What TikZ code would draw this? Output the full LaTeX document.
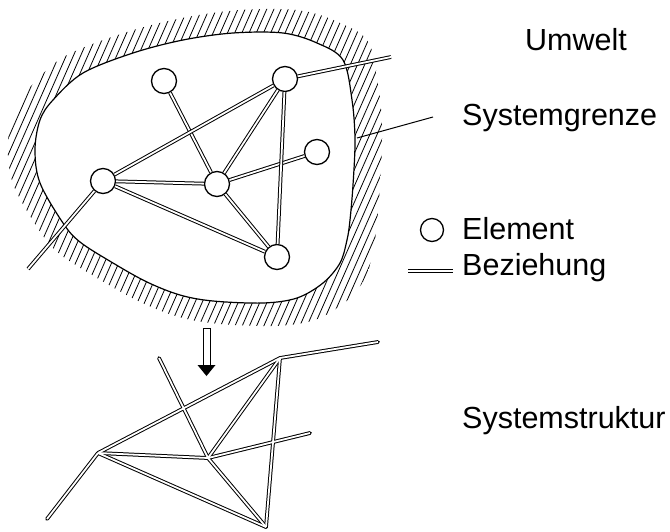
\documentclass[tikz,border=0pt]{standalone}
\usepackage{fontspec}
\setmainfont{Liberation Sans}
\usepackage{tikz}

% outline of the system boundary
\def\grenze{plot[smooth cycle, tension=0.55] coordinates {
  (35,150) (40,120) (53,100) (83,73) (133,53) (183,40) (233,33) (283,33)
  (317,43) (343,60) (352,100) (355,140) (353,185) (350,220) (347,240)
  (340,263) (323,283) (297,298) (263,303) (213,301) (180,295) (147,282)
  (113,263) (80,242) (63,223) (40,183)}}

\begin{document}
\begin{tikzpicture}[x=1pt, y=-1pt,
                    element/.style={circle, draw, fill=white,
                                    line width=1.3pt,
                                    minimum size=25pt, inner sep=0pt},
                    bez/.style={double, double distance=1.8pt, line width=1pt},
                    beschr/.style={anchor=base west, inner sep=0pt,
                                   font=\fontsize{30.5}{36}\selectfont}]

                      \useasboundingbox (0,0) rectangle (670,531);

                      % hatching outside the boundary
                      \begin{scope}
                        \clip[shift={(195,168)}, scale=1.17, shift={(-195,-168)}] \grenze;
                        \foreach \x in {-160,-152.8,...,420} {
                                \draw[line width=0.8pt] (\x,340) -- ++(150,-340);
                            }
                      \end{scope}
                      \fill[white] \grenze;
                      \draw[line width=1.2pt] \grenze;

                      % elements
                      \node[element] (a) at (164, 81) {};
                      \node[element] (b) at (285, 79) {};
                      \node[element] (c) at (317,152) {};
                      \node[element] (d) at (103,181) {};
                      \node[element] (e) at (217,184) {};
                      \node[element] (f) at (277,257) {};
                      \coordinate (b1) at (391,57);
                      \coordinate (d1) at (28,269);

                      \foreach \i/\j in {a/e, d/b, d/e, d/f, e/b, e/c, e/f, b/f, b/b1, d/d1} {
                              \draw[bez] (\i) -- (\j);
                          }

                      % pointer to the boundary
                      \coordinate (g0) at (357,138);
                      \coordinate (g1) at (433,117);
                      \draw[line width=1pt] (g0) -- (g1);

                      % arrow down
                      \coordinate (p0) at (206.5,328);
                      \coordinate (p1) at (206.5,365);
                      \coordinate (p2) at (206.5,376);
                      \draw[line width=1pt] ([xshift=-3.5pt]p0) rectangle ([xshift=3.5pt]p1);
                      \fill ([xshift=-9pt]p1) -- ([xshift=9pt]p1) -- (p2) -- cycle;

                      % structure without elements
                      \coordinate (u) at (98,453);
                      \coordinate (v) at (280,358);
                      \coordinate (w) at (208,458);
                      \coordinate (x) at (266,527);
                      \coordinate (u1) at (47,519);
                      \coordinate (v1) at (378,342);
                      \coordinate (w1) at (159,358);
                      \coordinate (w2) at (310,433);

                      \def\kanten{u/v, u/w, u/x, w/v, w/x, v/x, w/w1, w/w2, v/v1, u/u1}
                      \foreach \i/\j in \kanten {
                              \draw[line width=3.8pt, line cap=round] (\i) -- (\j);
                          }
                      \foreach \i/\j in \kanten {
                              \draw[white, line width=1.8pt] (\i) -- (\j);
                          }

                      % legend and labels
                      \node[element, minimum size=23pt] (leg) at (432,230) {};
                      \coordinate (l0) at (408,271);
                      \coordinate (l1) at (453,271);
                      \draw[bez] (l0) -- (l1);

                      \node[beschr] (umwelt) at (525,50) {Umwelt};
                      \node[beschr] (grenz) at (462,125) {Systemgrenze};
                      \node[beschr] (elem) at (462,239) {Element};
                      \node[beschr] (bezieh) at (462,275) {Beziehung};
                      \node[beschr] (struktur) at (462,428) {Systemstruktur};
                  \end{tikzpicture}
\end{document}
